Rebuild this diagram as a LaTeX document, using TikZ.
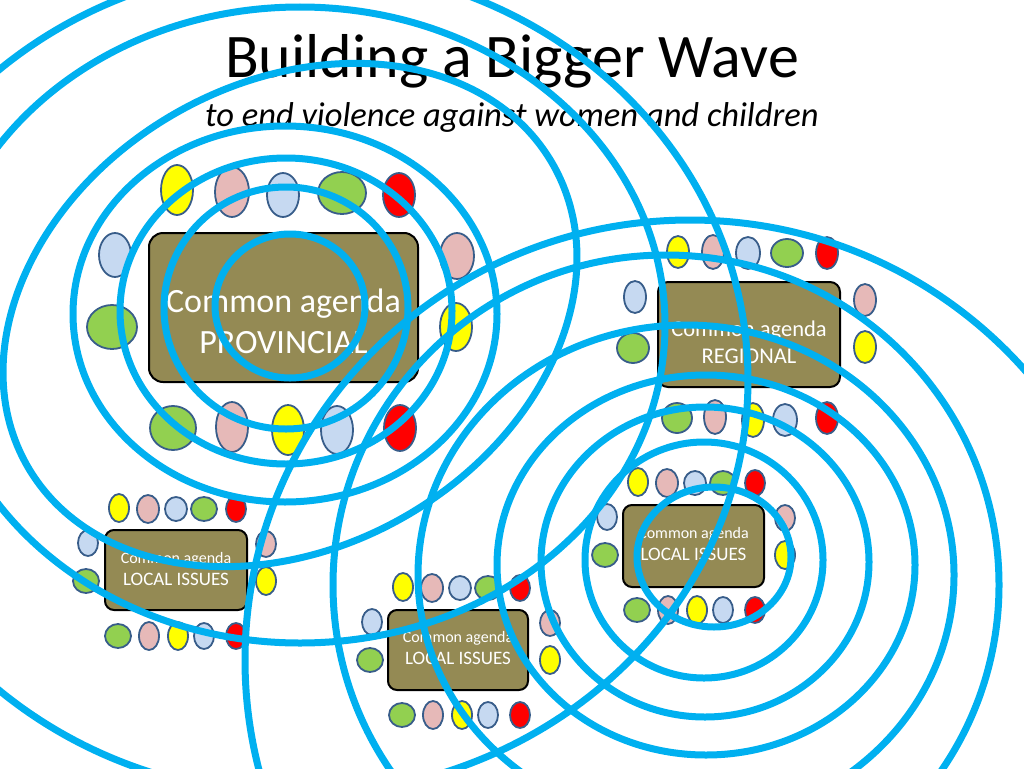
\documentclass[tikz,border=0pt]{standalone}
\usepackage{fontspec}
\setmainfont{Carlito}
\definecolor{wave}{RGB}{0,176,240}
\definecolor{olivetab}{RGB}{148,138,84}
\definecolor{pyellow}{RGB}{255,255,0}
\definecolor{ppink}{RGB}{230,185,184}
\definecolor{pblue}{RGB}{198,217,241}
\definecolor{pgreen}{RGB}{146,208,80}
\definecolor{pred}{RGB}{255,0,0}
\definecolor{pedge}{RGB}{56,93,138}
\tikzset{
  ring/.style={draw=wave,line width=7pt},
  tablebox/.style={draw=black,line width=2pt,fill=olivetab,rounded corners=14pt,inner sep=0pt},
  tabletext/.style={text=white,align=center,inner sep=0pt},
  person/.style={draw=pedge,line width=1.8pt}
}
\begin{document}
\begin{tikzpicture}[x=1pt,y=-1pt]
	\useasboundingbox (0,0) rectangle (1024,768);
	\clip (0,0) rectangle (1024,768);
	% title
	\node (title) at (512,61) {\fontsize{62}{70}\selectfont Building a Bigger Wave};
	\node (subtitle) at (512,117) {\fontsize{34.5}{40}\selectfont\itshape to end violence against women and children};
	% tables
	\node[tablebox,minimum width=269pt,minimum height=149pt] (prov) at (283.5,307.5) {};
	\node[tablebox,minimum width=182pt,minimum height=105pt,rounded corners=10pt] (reg) at (749,334.5) {};
	\node[tablebox,minimum width=141pt,minimum height=82pt,rounded corners=9pt] (locr) at (693.5,546) {};
	\node[tablebox,minimum width=142pt,minimum height=80pt,rounded corners=9pt] (locl) at (176,570) {};
	\node[tablebox,minimum width=140pt,minimum height=80pt,rounded corners=9pt] (locm) at (458,650) {};
	\node[tabletext,font=\fontsize{34}{41}\selectfont] (provtext) at ([yshift=-14pt]prov.center)
		{Common agenda\\PROVINCIAL};
	\node[tabletext,font=\fontsize{22.5}{27}\selectfont] (regtext) at ([yshift=-8pt]reg.center)
		{Common agenda\\REGIONAL};
	\node[tabletext,font=\fontsize{16}{22}\selectfont] (locrtext) at ([yshift=2pt]locr.center)
		{Common agenda\\{\fontsize{19}{22}\selectfont LOCAL ISSUES}};
	\node[tabletext,font=\fontsize{16}{22}\selectfont] (locltext) at ([yshift=1pt]locl.center)
		{Common agenda\\{\fontsize{19}{22}\selectfont LOCAL ISSUES}};
	\node[tabletext,font=\fontsize{16}{22}\selectfont] (locmtext) at ([yshift=2pt]locm.center)
		{Common agenda\\{\fontsize{19}{22}\selectfont LOCAL ISSUES}};
	% people round the provincial table
	\foreach \x/\y/\a/\b/\c in {177/190/16/25/pyellow,232/192/17/25/ppink,283/195/16/22/pblue,
		342/193/24/21/pgreen,399/195/16/22/pred,115/255/16/22/pblue,112/327/25/22/pgreen,
		457/256/17/23/ppink,456/327/16/24/pyellow,173/428/23/22/pgreen,232/427/16/25/ppink,
		288/430/16/25/pyellow,337/430/16/24/pblue,400/428/16/23/pred}
		\draw[person,fill=\c] (\x,\y) ellipse [x radius=\a,y radius=\b];
	% people round the regional table
	\foreach \x/\y/\a/\b/\c in {678/252/11/16/pyellow,713/252/11/17/ppink,748/253/12/16/pblue,
		787/253/16/14/pgreen,827/253/11/16/pred,635/297/11/16/pblue,633/348/16/15/pgreen,
		865/300/11/16/ppink,865/347/11/16/pyellow,677/418/15/15/pgreen,715/417/11/17/ppink,
		753/420/11/17/pyellow,785/420/12/16/pblue,827/418/11/16/pred}
		\draw[person,fill=\c] (\x,\y) ellipse [x radius=\a,y radius=\b];
	% people round the three local tables
	\foreach \u/\v in {0/0,-519/26,-235/105}
	\foreach \x/\y/\a/\b/\c in {638/482/10/14/pyellow,667/483/11/14/ppink,695/483/11/12/pblue,
		723/483/13/12/pgreen,755/483/10/13/pred,607/517/10/13/pblue,605/555/13/12/pgreen,
		785/518/10/13/ppink,785/555/10/14/pyellow,637/610/13/12/pgreen,668/610/10/14/ppink,
		697/610/10/14/pyellow,723/610/10/13/pblue,755/610/10/13/pred}
		\draw[person,fill=\c] (\x+\u,\y+\v) ellipse [x radius=\a,y radius=\b];
	% waves from the provincial table
	\foreach \x/\y/\a/\b/\r in {290/306/75/72/0,286/308/122/121/0,286/311/166/153/0,285/314/212/188/0,
		290/315/303/232/30,300/325/365/318/0,298/380/450/415/0}
		\draw[ring,rotate around={\r:(\x,\y)}] (\x,\y) ellipse [x radius=\a,y radius=\b];
	% waves from the local table
	\foreach \x/\y/\a/\b in {714/557/77/70,704/560/119/118,705/562/164/155,706/565/209/190,
		686/575/268/250,666/585/333/330,690/660/445/440}
		\draw[ring] (\x,\y) ellipse [x radius=\a,y radius=\b];
\end{tikzpicture}
\end{document}
